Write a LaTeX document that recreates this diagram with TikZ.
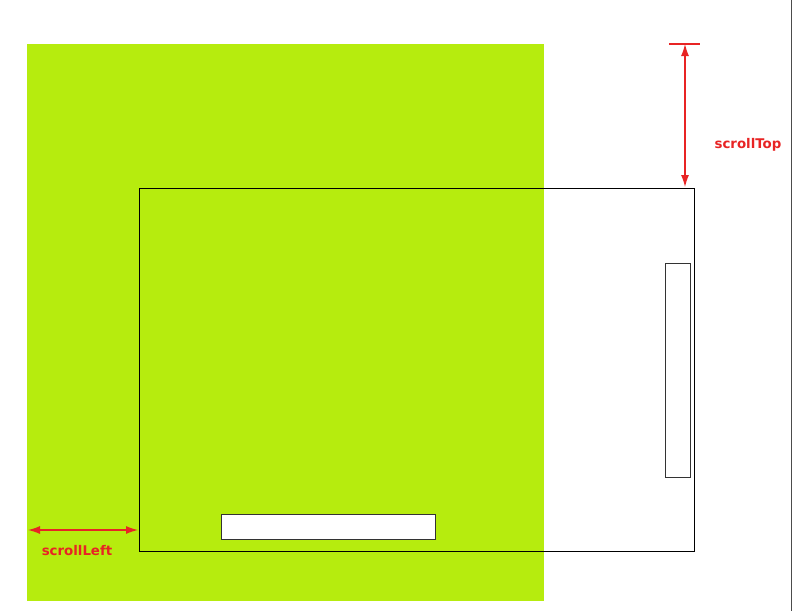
\documentclass[tikz,border=0pt]{standalone}
\usepackage{fontspec}
\setmainfont{DejaVu Sans}
\usetikzlibrary{arrows.meta}
\definecolor{pagegreen}{RGB}{182,236,14}
\definecolor{measurered}{RGB}{232,36,36}
\begin{document}
\begin{tikzpicture}[x=0.75pt,y=-0.75pt,
  every node/.style={font=\bfseries\fontsize{10}{12}\selectfont},
  content/.style={fill=pagegreen,draw=none},
  viewport/.style={black,line width=0.7pt},
  scrollbar/.style={black!80,line width=0.7pt,fill=white},
  measure/.style={measurered,line width=0.9pt,
    {Latex[length=9pt,width=6pt]}-{Latex[length=9pt,width=6pt]}},
  measurelabel/.style={text=measurered,inner sep=1pt}]
  \useasboundingbox[fill=white] (0,0) rectangle (793,611);
  % Frame edge of the screenshot on the right.
  \draw[black!70,line width=0.8pt] (791.5,0) -- (791.5,611);

  % Whole scrollable content.
  \fill[content] (27,44) rectangle (544,601);

  % Visible area with its two scroll bars.
  \draw[viewport] (139,188) rectangle (694,551);
  \draw[scrollbar] (665,263) rectangle (690,477);
  \draw[scrollbar] (221,514) rectangle (435,539);

  % Offsets from the content edges to the visible area.
  \coordinate (topcap) at (685,44);
  \coordinate (topend) at (685,187);
  \coordinate (leftstart) at (28,530);
  \coordinate (leftend) at (138,530);
  \draw[measurered,line width=0.9pt] (669,44) -- (700,44);
  \draw[measure] (topcap) -- (topend);
  \draw[measure] (leftstart) -- (leftend);
  \node[measurelabel] (toplabel) at (748,145) {scrollTop};
  \node[measurelabel] (leftlabel) at (77,551) {scrollLeft};
\end{tikzpicture}
\end{document}
